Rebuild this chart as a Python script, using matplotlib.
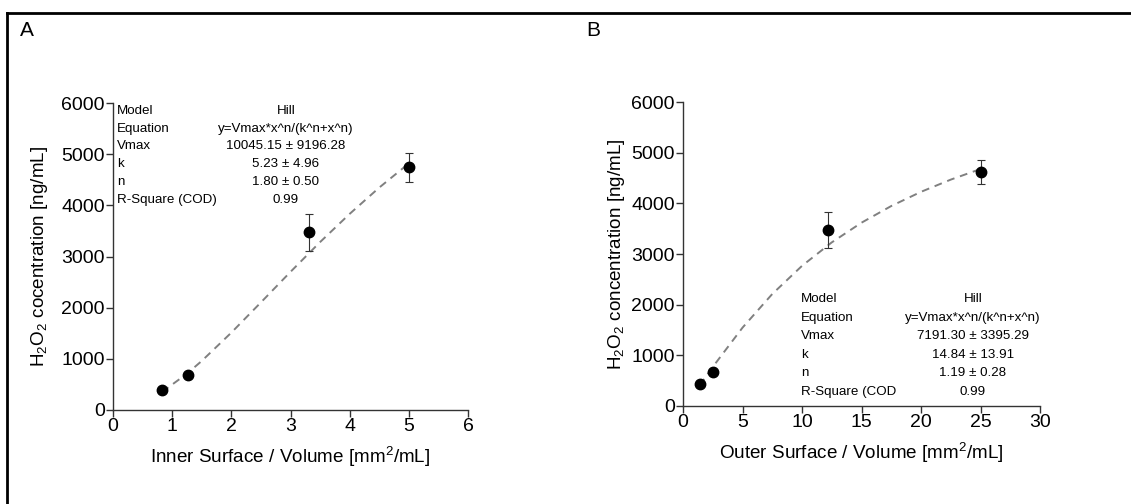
import matplotlib
matplotlib.use("Agg")
import matplotlib.pyplot as plt
from matplotlib.lines import Line2D

plt.rcParams['font.family'] = ['Liberation Sans', 'DejaVu Sans']
plt.rcParams['mathtext.default'] = 'regular'

# panel A data
inner_x = [0.83, 1.26, 3.32, 5.0]
inner_y = [395, 685, 3470, 4745]
inner_err = [0, 0, 355, 280]
# fitted Hill curve
inner_fit_x = [0.83, 1.25, 1.5, 2.0, 2.5, 3.0, 3.5, 4.0, 4.5, 5.0]
inner_fit_y = [353, 710, 959, 1512, 2103, 2700, 3282, 3833, 4347, 4819]
inner_table = [("Model", "Hill"),
               ("Equation", "y=Vmax*x^n/(k^n+x^n)"),
               ("Vmax", "10045.15 \u00b1 9196.28"),
               ("k", "5.23 \u00b1 4.96"),
               ("n", "1.80 \u00b1 0.50"),
               ("R-Square (COD)", "0.99")]

# panel B data
outer_x = [1.4, 2.52, 12.2, 25.0]
outer_y = [430, 677, 3469, 4619]
outer_err = [0, 0, 355, 240]
outer_fit_x = [1.4, 2.5, 5.0, 7.5, 10.0, 12.5, 15.0, 17.5, 20.0, 22.5, 25.0]
outer_fit_y = [408, 771, 1546, 2210, 2766, 3229, 3618, 3947, 4227, 4468, 4677]
outer_table = [("Model", "Hill"),
               ("Equation", "y=Vmax*x^n/(k^n+x^n)"),
               ("Vmax", "7191.30 \u00b1 3395.29"),
               ("k", "14.84 \u00b1 13.91"),
               ("n", "1.19 \u00b1 0.28"),
               ("R-Square (COD", "0.99")]

fig = plt.figure(figsize=(11.31, 5.04), dpi=100)

# outer frame lines
fig.add_artist(Line2D([7/1131, 1.0], [1-13/504, 1-13/504], color='black', lw=2))
fig.add_artist(Line2D([7/1131, 7/1131], [0.0, 1-13/504], color='black', lw=2))

fig.text(27/1131, 1-30/504, "A", fontsize=15, ha='center', va='center')
fig.text(593/1131, 1-30/504, "B", fontsize=15, ha='center', va='center')


def draw_panel(rect, x, y, err, fx, fy, table, xlim, xticks, xlabel, ylabel,
               ylab_x, tx_left, tx_right, ty0, tstep):
    ax = fig.add_axes(rect)
    ax.plot(fx, fy, color='#808080', lw=1.4, dashes=(4, 3), zorder=2)
    ax.errorbar(x, y, yerr=err, fmt='o', color='black', ms=7.5,
                ecolor='#333333', elinewidth=0.8, capsize=3, capthick=0.8, zorder=3)
    ax.set_xlim(xlim)
    ax.set_ylim(0, 6000)
    ax.set_xticks(xticks)
    ax.set_yticks(range(0, 6001, 1000))
    for s in ['top', 'right']:
        ax.spines[s].set_visible(False)
    for s in ['left', 'bottom']:
        ax.spines[s].set_color('#333333')
        ax.spines[s].set_linewidth(1.0)
    ax.tick_params(direction='out', length=5, width=1.0, color='#333333',
                   labelsize=14, pad=1)
    ax.set_xlabel(xlabel, fontsize=13.6, labelpad=7)
    ax.set_ylabel(ylabel, fontsize=13.6)
    ax.yaxis.set_label_coords(ylab_x, 0.5)
    for i, (k, v) in enumerate(table):
        yy = ty0 - i * tstep
        ax.text(tx_left, yy, k, transform=ax.transAxes, fontsize=9.6,
                ha='left', va='center')
        ax.text(tx_right, yy, v, transform=ax.transAxes, fontsize=9.6,
                ha='center', va='center')
    return ax


draw_panel([113/1131, 1-410/504, 355/1131, 307/504],
           inner_x, inner_y, inner_err, inner_fit_x, inner_fit_y, inner_table,
           (0, 6), range(0, 7), "Inner Surface / Volume [mm$^2$/mL]",
           "H$_2$O$_2$ cocentration [ng/mL]", (50-113)/355,
           0.011, 0.487, 0.974, 0.0577)

draw_panel([683/1131, 1-406/504, 357/1131, 304/504],
           outer_x, outer_y, outer_err, outer_fit_x, outer_fit_y, outer_table,
           (0, 30), range(0, 31, 5), "Outer Surface / Volume [mm$^2$/mL]",
           "H$_2$O$_2$ concentration [ng/mL]", (627-683)/357,
           0.330, 0.812, 0.352, 0.061)

fig.savefig("out.png", dpi=100)
